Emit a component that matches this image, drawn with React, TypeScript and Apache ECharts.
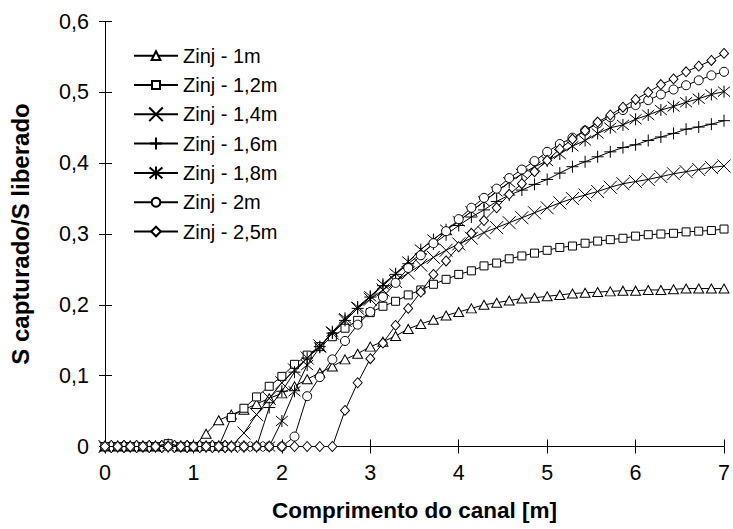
import React, { useEffect, useRef } from "react";
import * as echarts from "echarts";

const xs = [
  0, 0.143, 0.286, 0.429, 0.571, 0.714, 0.857, 1, 1.143, 1.286,
  1.429, 1.571, 1.714, 1.857, 2, 2.143, 2.286, 2.429, 2.571, 2.714,
  2.857, 3, 3.143, 3.286, 3.429, 3.571, 3.714, 3.857, 4, 4.143,
  4.286, 4.429, 4.571, 4.714, 4.857, 5, 5.143, 5.286, 5.429, 5.571,
  5.714, 5.857, 6, 6.143, 6.286, 6.429, 6.571, 6.714, 6.857, 7,
];

const zinj1m = [
  0, 0, 0, 0, 0, 0.004, 0, 0, 0.018, 0.037,
  0.045, 0.052, 0.06, 0.068, 0.075, 0.085, 0.095, 0.104, 0.113, 0.123,
  0.131, 0.141, 0.148, 0.156, 0.166, 0.173, 0.179, 0.185, 0.19, 0.195,
  0.2, 0.203, 0.206, 0.209, 0.21, 0.212, 0.214, 0.216, 0.217, 0.218,
  0.219, 0.22, 0.22, 0.221, 0.221, 0.222, 0.223, 0.223, 0.223, 0.223,
];

const zinj12m = [
  0, 0, 0, 0, 0, 0.004, 0, 0, 0, 0,
  0.041, 0.054, 0.07, 0.085, 0.099, 0.116, 0.129, 0.141, 0.155, 0.167,
  0.178, 0.189, 0.198, 0.205, 0.214, 0.221, 0.229, 0.236, 0.243, 0.248,
  0.255, 0.259, 0.265, 0.269, 0.273, 0.277, 0.281, 0.283, 0.287, 0.29,
  0.292, 0.294, 0.297, 0.299, 0.3, 0.301, 0.303, 0.304, 0.305, 0.307,
];

const zinj14m = [
  0, 0, 0, 0, 0, 0, 0, 0, 0, 0,
  0, 0.019, 0.045, 0.068, 0.09, 0.108, 0.125, 0.142, 0.16, 0.178,
  0.195, 0.208, 0.221, 0.233, 0.245, 0.256, 0.267, 0.277, 0.286, 0.294,
  0.302, 0.309, 0.316, 0.323, 0.33, 0.337, 0.344, 0.35, 0.355, 0.36,
  0.366, 0.371, 0.374, 0.377, 0.381, 0.385, 0.388, 0.391, 0.394, 0.396,
];

const zinj16m = [
  0, 0, 0, 0, 0, 0, 0, 0, 0, 0,
  0, 0, 0, 0.055, 0.078, 0.105, 0.125, 0.141, 0.16, 0.178,
  0.195, 0.211, 0.227, 0.243, 0.258, 0.272, 0.286, 0.299, 0.312, 0.324,
  0.334, 0.346, 0.355, 0.362, 0.37, 0.377, 0.386, 0.395, 0.402, 0.409,
  0.416, 0.422, 0.426, 0.432, 0.437, 0.442, 0.448, 0.451, 0.455, 0.46,
];

const zinj18m = [
  0, 0, 0, 0, 0, 0, 0, 0, 0, 0,
  0, 0, 0, 0, 0.036, 0.078, 0.115, 0.14, 0.162, 0.181,
  0.197, 0.212, 0.229, 0.244, 0.261, 0.278, 0.292, 0.306, 0.318, 0.332,
  0.346, 0.36, 0.373, 0.385, 0.395, 0.403, 0.413, 0.424, 0.432, 0.442,
  0.45, 0.454, 0.462, 0.468, 0.475, 0.48, 0.486, 0.491, 0.497, 0.501,
];

const zinj2m = [
  0, 0, 0, 0, 0, 0, 0, 0, 0, 0,
  0, 0, 0, 0, 0, 0.014, 0.071, 0.098, 0.123, 0.149,
  0.172, 0.19, 0.211, 0.231, 0.252, 0.27, 0.287, 0.304, 0.321, 0.337,
  0.351, 0.364, 0.379, 0.391, 0.403, 0.416, 0.427, 0.436, 0.446, 0.456,
  0.465, 0.475, 0.482, 0.489, 0.497, 0.504, 0.51, 0.517, 0.524, 0.529,
];

const zinj25m = [
  0, 0, 0, 0, 0, 0, 0, 0, 0, 0,
  0, 0, 0, 0, 0, 0, 0, 0, 0, 0.051,
  0.09, 0.124, 0.146, 0.171, 0.195, 0.218, 0.243, 0.262, 0.282, 0.301,
  0.319, 0.337, 0.356, 0.371, 0.388, 0.404, 0.42, 0.434, 0.446, 0.458,
  0.468, 0.479, 0.49, 0.5, 0.511, 0.519, 0.529, 0.537, 0.545, 0.555,
];

const seriesNames = [
  "Zinj - 1m",
  "Zinj - 1,2m",
  "Zinj - 1,4m",
  "Zinj - 1,6m",
  "Zinj - 1,8m",
  "Zinj - 2m",
  "Zinj - 2,5m",
];
const seriesValues = [zinj1m, zinj12m, zinj14m, zinj16m, zinj18m, zinj2m, zinj25m];

const xTitle = "Comprimento do canal [m]";
const yTitle = "S capturado/S liberado";

const FONT = '"Liberation Sans", Arial, Helvetica, sans-serif';

const SYM_X = "path://M0,0L10,10M10,0L0,10";
const SYM_PLUS = "path://M5,0L5,10M0,5L10,5";
const SYM_STAR = "path://M0,0L10,10M10,0L0,10M5,-1L5,11";

const markerStyles: { symbol: string; size: number | number[]; legend: number }[] = [
  { symbol: "triangle", size: [10, 9], legend: 11 },
  { symbol: "rect", size: 8, legend: 10 },
  { symbol: SYM_X, size: 13, legend: 17 },
  { symbol: SYM_PLUS, size: 12, legend: 15 },
  { symbol: SYM_STAR, size: 12, legend: 16 },
  { symbol: "circle", size: 9, legend: 11 },
  { symbol: "diamond", size: [9, 10], legend: 12 },
];

export default function App() {
  const ref = useRef<HTMLDivElement>(null);

  useEffect(() => {
    if (!ref.current) return;
    const chart = echarts.init(ref.current, undefined, { renderer: "svg" });

    const series = seriesNames.map((name, k) => ({
      name,
      type: "line",
      data: xs.map((x, i) => [x, seriesValues[k][i]]),
      symbol: markerStyles[k].symbol,
      symbolSize: markerStyles[k].size,
      showSymbol: true,
      showAllSymbol: true,
      lineStyle: { color: "#000", width: 1 },
      itemStyle: { color: "#fff", borderColor: "#000", borderWidth: 1 },
      emphasis: { disabled: true },
      z: 2 + k,
    }));

    const legends = seriesNames.map((name, k) => ({
      data: [name],
      orient: "vertical",
      left: 133,
      top: 56.7 + 29.3 * k - 11,
      padding: 0,
      itemWidth: 44,
      itemHeight: markerStyles[k].legend,
      selectedMode: false,
      textStyle: { fontSize: 20, color: "#000", fontFamily: FONT },
    }));

    const axisCommon = {
      axisLine: { show: true, lineStyle: { color: "#000", width: 1 } },
      splitLine: { show: false },
    };

    chart.setOption({
      animation: false,
      backgroundColor: "#fff",
      textStyle: { fontFamily: FONT },
      grid: { left: 104, right: 7, top: 21.5, bottom: 82.5, containLabel: false },
      legend: legends,
      xAxis: [
        {
          type: "value",
          min: 0,
          max: 7,
          interval: 1,
          position: "bottom",
          ...axisCommon,
          axisTick: { show: true, inside: true, length: 7, lineStyle: { color: "#000" } },
          axisLabel: { fontSize: 21.5, color: "#000", margin: 15, fontFamily: FONT },
          name: xTitle,
          nameLocation: "middle",
          nameGap: 52,
          nameTextStyle: { fontSize: 22.5, fontWeight: "bold", color: "#000", fontFamily: FONT },
        },
        {
          type: "value",
          min: 0,
          max: 7,
          interval: 1,
          position: "top",
          ...axisCommon,
          axisTick: { show: true, inside: true, length: 7, lineStyle: { color: "#000" } },
          axisLabel: { show: false },
        },
      ],
      yAxis: [
        {
          type: "value",
          min: 0,
          max: 0.6,
          interval: 0.1,
          position: "left",
          ...axisCommon,
          axisTick: { show: true, inside: true, length: 7, lineStyle: { color: "#000" } },
          axisLabel: {
            fontSize: 21.5,
            color: "#000",
            margin: 16,
            fontFamily: FONT,
            formatter: (v: number) => (v === 0 ? "0" : v.toFixed(1).replace(".", ",")),
          },
          name: yTitle,
          nameLocation: "middle",
          nameGap: 73,
          nameRotate: 90,
          nameTextStyle: { fontSize: 24, fontWeight: "bold", color: "#000", fontFamily: FONT },
        },
        {
          type: "value",
          min: 0,
          max: 0.6,
          interval: 0.1,
          position: "right",
          ...axisCommon,
          axisTick: { show: true, inside: true, length: 6, lineStyle: { color: "#000" } },
          axisLabel: { show: false },
        },
      ],
      series,
    });

    return () => {
      chart.dispose();
    };
  }, []);

  return (
    <div
      ref={ref}
      style={{ position: "fixed", left: 0, top: 0, width: 733, height: 529, background: "#fff" }}
    />
  );
}
